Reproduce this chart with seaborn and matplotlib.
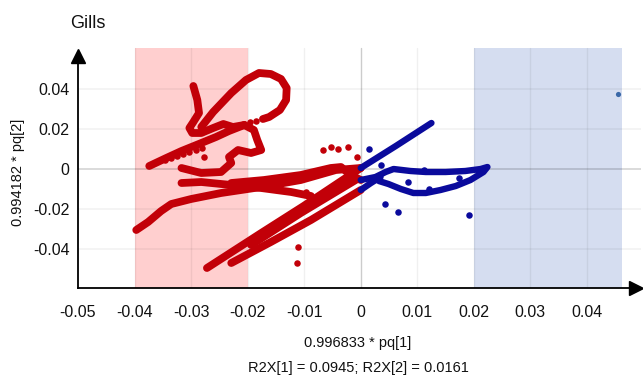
import matplotlib
matplotlib.use("Agg")
import matplotlib.pyplot as plt
import seaborn as sns
import pandas as pd

sns.set_style("white")
plt.rcParams["font.family"] = ["Liberation Sans", "DejaVu Sans"]
plt.rcParams["axes.unicode_minus"] = False

# ---------------- data ----------------
title = "Gills"
x_label = "0.996833 * pq[1]"
y_label = "0.994182 * pq[2]"
r2x_text = "R2X[1] = 0.0945; R2X[2] = 0.0161"

x_ticks = [-0.05, -0.04, -0.03, -0.02, -0.01, 0, 0.01, 0.02, 0.03, 0.04]
x_tick_labels = ["-0.05", "-0.04", "-0.03", "-0.02", "-0.01", "0", "0.01", "0.02", "0.03", "0.04"]
y_ticks = [-0.04, -0.02, 0, 0.02, 0.04]
y_tick_labels = ["-0.04", "-0.02", "0", "0.02", "0.04"]

red_band = [-0.04, -0.02]
blue_band = [0.02, 0.0462]

# red (negative-loading) point traces
red_diag_a_x = [-0.0272, -0.0176, -0.0101, 0.0]
red_diag_a_y = [-0.0495, -0.032, -0.0185, 0.0005]
red_diag_b_x = [-0.0229, -0.0159, -0.0088, 0.0]
red_diag_b_y = [-0.047, -0.0365, -0.0255, -0.0105]
red_diag_c_x = [-0.0194, -0.0106, -0.0009]
red_diag_c_y = [-0.038, -0.022, -0.0055]
red_long_x = [-0.0397, -0.0376, -0.0353, -0.0335, -0.030, -0.0247, -0.0176, -0.0106, -0.0044, 0.0]
red_long_y = [-0.0305, -0.0265, -0.021, -0.0175, -0.015, -0.012, -0.009, -0.0055, -0.0005, 0.0005]
red_band_x = [-0.0317, -0.0282, -0.0229, -0.0176, -0.0123, -0.0088]
red_band_y = [-0.007, -0.0065, -0.008, -0.0095, -0.0115, -0.0135]
red_cross_x = [-0.0229, -0.0171, -0.0106, -0.0053, -0.0035, -0.0018, 0.0]
red_cross_y = [-0.007, -0.0055, -0.003, 0.0005, 0.001, -0.003, -0.0055]
red_squiggle_x = [-0.0296, -0.0289, -0.0286, -0.0296, -0.0303, -0.0298, -0.0282, -0.0261, -0.0243,
                  -0.0226, -0.0206, -0.0189, -0.0183, -0.0176, -0.0194, -0.0217, -0.0233, -0.0229,
                  -0.0247, -0.0282, -0.0317]
red_squiggle_y = [0.0415, 0.0345, 0.028, 0.0235, 0.0205, 0.018, 0.018, 0.0205, 0.0225,
                  0.021, 0.022, 0.0195, 0.0145, 0.0095, 0.008, 0.0095, 0.006, 0.003,
                  -0.0015, -0.002, 0.0005]
red_arm_x = [-0.0374, -0.0344, -0.0317, -0.0282, -0.0256, -0.0233, -0.0206]
red_arm_y = [0.0015, 0.0055, 0.009, 0.013, 0.016, 0.019, 0.022]
red_loop_x = [-0.0282, -0.0261, -0.0229, -0.0203, -0.018, -0.0159, -0.0141, -0.0131,
              -0.0132, -0.0143, -0.0162, -0.0173]
red_loop_y = [0.021, 0.0285, 0.038, 0.0445, 0.048, 0.0475, 0.045, 0.0405,
              0.0345, 0.0295, 0.026, 0.025]
red_dots_x = [-0.0067, -0.0053, -0.0041, -0.0023, -0.0007, -0.0097, -0.0111, -0.0113,
              -0.0347, -0.0335, -0.0325, -0.0314, -0.0303, -0.0291, -0.028, -0.0277,
              -0.0185, -0.0196, -0.0206]
red_dots_y = [0.0095, 0.011, 0.010, 0.011, 0.006, -0.0115, -0.039, -0.047,
              0.0045, 0.0055, 0.0065, 0.0075, 0.0085, 0.0095, 0.0105, 0.006,
              0.024, 0.0235, 0.0225]

# blue (positive-loading) point traces
blue_diag_a_x = [0.0, 0.0062, 0.0125]
blue_diag_a_y = [0.0005, 0.0115, 0.023]
blue_diag_b_x = [0.0, 0.0018, 0.0035]
blue_diag_b_y = [-0.0105, -0.007, -0.004]
blue_loop_x = [0.0, 0.0026, 0.0044, 0.0058, 0.0088, 0.0115, 0.015, 0.0185, 0.0212, 0.0224,
               0.0217, 0.0194, 0.0168, 0.0141, 0.0115, 0.0093, 0.0071, 0.0049, 0.0032]
blue_loop_y = [-0.0055, -0.004, -0.0015, 0.0, -0.001, -0.0015, -0.0015, -0.001, 0.0, 0.001,
               -0.0015, -0.0055, -0.0085, -0.0105, -0.012, -0.012, -0.010, -0.0075, -0.006]
blue_dots_x = [0.0014, 0.0035, 0.0083, 0.0111, 0.012, 0.0173, 0.0042, 0.0065, 0.0192]
blue_dots_y = [0.010, 0.002, -0.0065, -0.0005, -0.010, -0.0045, -0.0175, -0.0215, -0.023]
outlier_x = [0.0455]
outlier_y = [0.0375]

red_paths = [(red_diag_a_x, red_diag_a_y), (red_diag_b_x, red_diag_b_y),
             (red_diag_c_x, red_diag_c_y), (red_long_x, red_long_y),
             (red_band_x, red_band_y), (red_cross_x, red_cross_y),
             (red_squiggle_x, red_squiggle_y), (red_arm_x, red_arm_y),
             (red_loop_x, red_loop_y)]
blue_paths = [(blue_diag_a_x, blue_diag_a_y), (blue_diag_b_x, blue_diag_b_y),
              (blue_loop_x, blue_loop_y)]

RED = "#c20008"
BLUE = "#0a0a9c"

# ---------------- figure ----------------
fig = plt.figure(figsize=(6.43, 3.76), dpi=100)
ax = fig.add_axes([0.1213, 0.234, 0.8751, 0.649])

y_lo, y_hi = -0.0595, 0.0625
ax.set_xlim(-0.05, 0.0495)
ax.set_ylim(y_lo, y_hi)

# shaded bands
ax.fill_between(red_band, y_lo, 0.0605, color="#ffcfcf", lw=0, zorder=0)
ax.fill_between(blue_band, y_lo, 0.0605, color="#d5ddf0", lw=0, zorder=0)

# grid
for xv in x_ticks[1:]:
    ax.plot([xv, xv], [y_lo, 0.0605], color="black",
            alpha=0.2 if xv == 0 else 0.06, lw=1, zorder=1)
for yv in y_ticks:
    ax.plot([-0.05, 0.0495], [yv, yv], color="black",
            alpha=0.17 if yv == 0 else 0.05, lw=1.2, zorder=1)

for px, py in red_paths:
    sns.lineplot(x=px, y=py, sort=False, estimator=None, color=RED, lw=5.6,
                 solid_capstyle="round", solid_joinstyle="round", ax=ax, zorder=3)
for px, py in blue_paths:
    sns.lineplot(x=px, y=py, sort=False, estimator=None, color=BLUE, lw=4.6,
                 solid_capstyle="round", solid_joinstyle="round", ax=ax, zorder=3)

sns.scatterplot(x=red_dots_x, y=red_dots_y, color=RED, s=22, linewidth=0, ax=ax, zorder=4)
sns.scatterplot(x=blue_dots_x, y=blue_dots_y, color=BLUE, s=22, linewidth=0, ax=ax, zorder=4)
sns.scatterplot(x=outlier_x, y=outlier_y, color="#3a68a8", s=14, linewidth=0, ax=ax, zorder=4)

# axes styling
for s in ["top", "right"]:
    ax.spines[s].set_visible(False)
ax.spines["left"].set_bounds(y_lo, 0.0565)
ax.spines["bottom"].set_bounds(-0.05, 0.0487)
for s in ["left", "bottom"]:
    ax.spines[s].set_color("black")
    ax.spines[s].set_linewidth(1.3)
ax.plot([-0.05], [0.0565], marker="^", ms=10, color="black", clip_on=False, zorder=6)
ax.plot([0.0487], [y_lo], marker=">", ms=10, color="black", clip_on=False, zorder=6)

ax.set_xticks(x_ticks)
ax.set_xticklabels(x_tick_labels)
ax.set_yticks(y_ticks)
ax.set_yticklabels(y_tick_labels)
ax.tick_params(axis="both", direction="inout", length=8, width=1.2, color="black",
               labelsize=11.5, labelcolor="#111111")
ax.tick_params(axis="x", pad=8)
ax.tick_params(axis="y", pad=2)
ax.set_xlabel("")
ax.set_ylabel("")

fig.text(70 / 643, 1 - 24 / 376, title, fontsize=13, ha="left", va="center", color="#111111")
fig.text(358 / 643, 1 - 343 / 376, x_label, fontsize=10.5, ha="center", va="center", color="#111111")
fig.text(358 / 643, 1 - 368 / 376, r2x_text, fontsize=10.5, ha="center", va="center", color="#111111")
fig.text(18 / 643, 1 - 172 / 376, y_label, fontsize=10.5, ha="center", va="center",
         rotation=90, color="#111111")

fig.savefig("out.png", dpi=100)
